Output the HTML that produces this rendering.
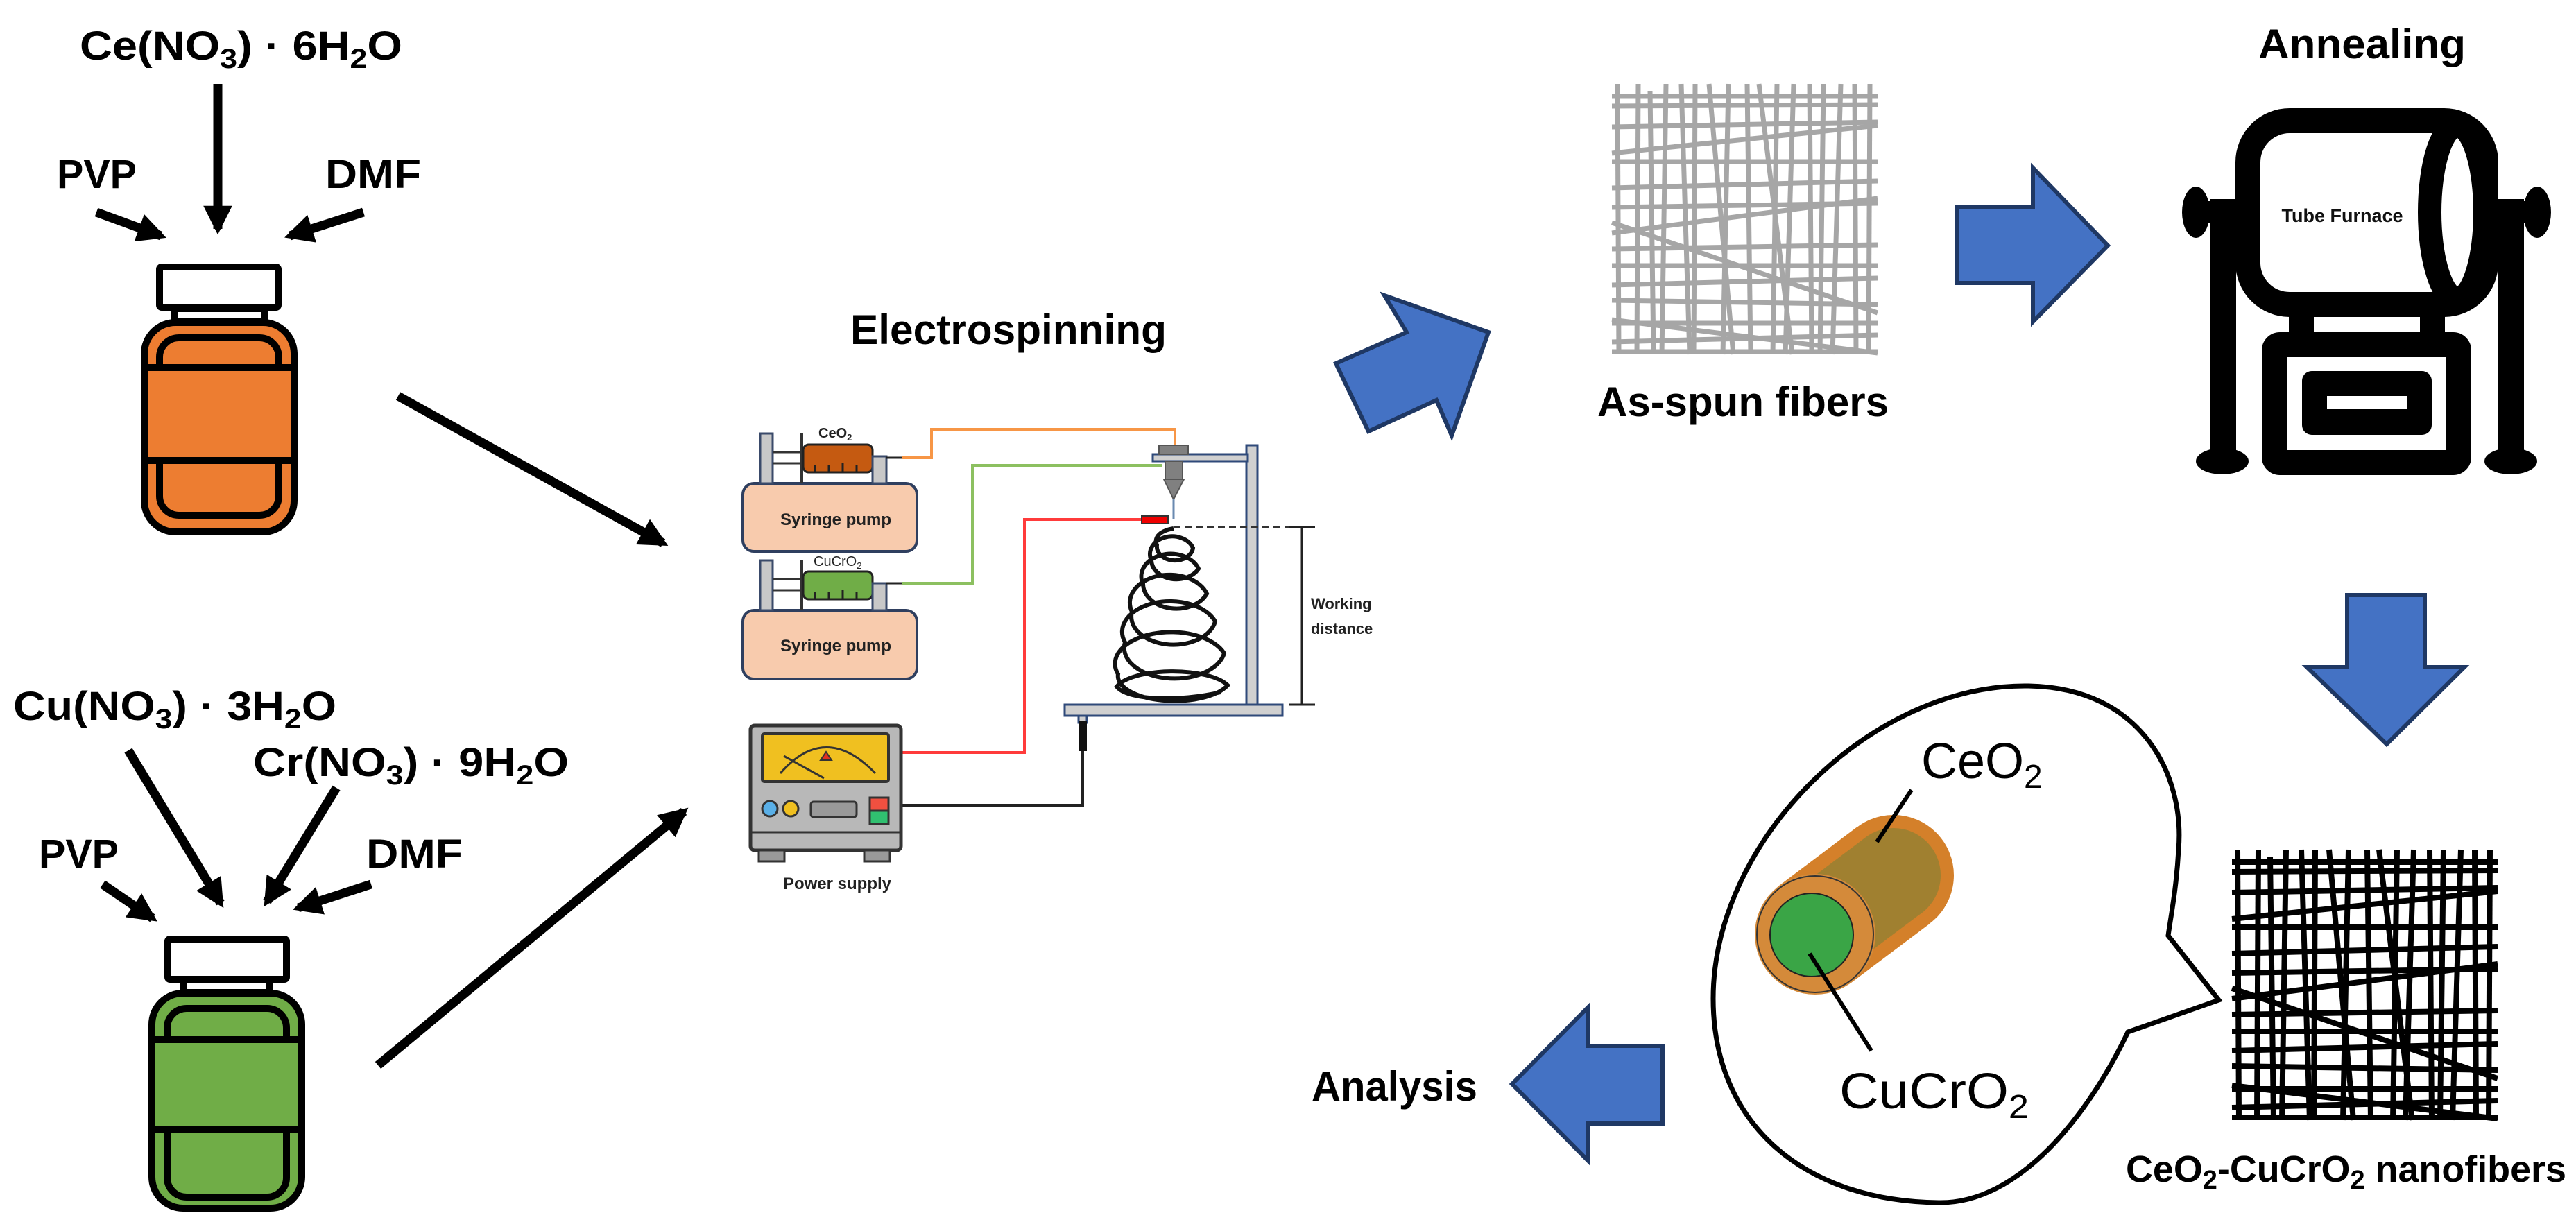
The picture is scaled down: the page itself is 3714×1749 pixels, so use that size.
<!DOCTYPE html>
<html><head><meta charset="utf-8"><style>
html,body{margin:0;padding:0;background:#fff;}
svg{display:block;}
text{font-family:"Liberation Sans",sans-serif;}
</style></head><body>
<svg width="3714" height="1749" viewBox="0 0 3714 1749" xmlns="http://www.w3.org/2000/svg">
<defs>
<marker id="ah" viewBox="0 0 10 10" refX="8" refY="5" markerWidth="3.2" markerHeight="3.2" orient="auto"><path d="M0,0 L10,5 L0,10 Z" fill="#000"/></marker>
<g id="fib">
<line x1="8" y1="0" x2="10" y2="390"/><line x1="38" y1="0" x2="36" y2="390"/><line x1="55" y1="10" x2="60" y2="390"/>
<line x1="78" y1="0" x2="72" y2="390"/><line x1="100" y1="0" x2="112" y2="390"/><line x1="120" y1="0" x2="118" y2="390"/>
<line x1="140" y1="0" x2="175" y2="390"/><line x1="168" y1="0" x2="160" y2="390"/><line x1="195" y1="0" x2="200" y2="390"/>
<line x1="212" y1="0" x2="260" y2="390"/><line x1="238" y1="0" x2="232" y2="390"/><line x1="262" y1="0" x2="250" y2="390"/>
<line x1="285" y1="0" x2="288" y2="390"/><line x1="305" y1="0" x2="300" y2="390"/><line x1="330" y1="0" x2="318" y2="390"/>
<line x1="350" y1="0" x2="352" y2="390"/><line x1="372" y1="0" x2="370" y2="390"/>
<line x1="0" y1="18" x2="383" y2="18"/><line x1="0" y1="32" x2="383" y2="30"/><line x1="0" y1="62" x2="383" y2="55"/>
<line x1="0" y1="100" x2="383" y2="60"/><line x1="0" y1="112" x2="383" y2="112"/><line x1="0" y1="150" x2="383" y2="140"/>
<line x1="0" y1="178" x2="383" y2="172"/><line x1="0" y1="215" x2="383" y2="165"/><line x1="0" y1="238" x2="383" y2="232"/>
<line x1="0" y1="262" x2="383" y2="262"/><line x1="0" y1="290" x2="383" y2="280"/><line x1="0" y1="200" x2="383" y2="330"/>
<line x1="0" y1="312" x2="383" y2="318"/><line x1="0" y1="345" x2="383" y2="345"/><line x1="0" y1="372" x2="383" y2="362"/>
<line x1="0" y1="340" x2="383" y2="388"/><line x1="0" y1="386" x2="383" y2="386"/>
</g>
</defs>

<text x="115" y="86" font-size="58" font-weight="bold" textLength="465" lengthAdjust="spacingAndGlyphs">Ce(NO<tspan font-size="40" dy="12">3</tspan><tspan dy="-12">) · 6H</tspan><tspan font-size="40" dy="12">2</tspan><tspan dy="-12">O</tspan></text>
<text x="82" y="271" font-size="58" font-weight="bold" textLength="115" lengthAdjust="spacingAndGlyphs">PVP</text>
<text x="469" y="271" font-size="58" font-weight="bold" textLength="138" lengthAdjust="spacingAndGlyphs">DMF</text>
<g stroke="#000" stroke-width="13" marker-end="url(#ah)">
<line x1="314" y1="121" x2="314" y2="330"/>
<line x1="139" y1="306" x2="232" y2="340"/>
<line x1="524" y1="306" x2="418" y2="340"/>
<line x1="574" y1="571" x2="956" y2="783"/>
</g>
<g stroke="#000" stroke-width="10">
<rect x="230" y="385" width="171" height="58" fill="#fff" rx="3"/>
<rect x="251" y="445" width="130" height="18" fill="#fff"/>
<rect x="208" y="465" width="216" height="302" rx="45" fill="#ed7d31"/>
<rect x="230" y="487" width="172" height="256" rx="28" fill="#ed7d31"/>
<rect x="208" y="530" width="216" height="134" fill="#ed7d31"/>
</g>

<text x="19" y="1038" font-size="58" font-weight="bold" textLength="466" lengthAdjust="spacingAndGlyphs">Cu(NO<tspan font-size="40" dy="12">3</tspan><tspan dy="-12">) · 3H</tspan><tspan font-size="40" dy="12">2</tspan><tspan dy="-12">O</tspan></text>
<text x="365" y="1119" font-size="58" font-weight="bold" textLength="455" lengthAdjust="spacingAndGlyphs">Cr(NO<tspan font-size="40" dy="12">3</tspan><tspan dy="-12">) · 9H</tspan><tspan font-size="40" dy="12">2</tspan><tspan dy="-12">O</tspan></text>
<text x="56" y="1251" font-size="58" font-weight="bold" textLength="115" lengthAdjust="spacingAndGlyphs">PVP</text>
<text x="528" y="1251" font-size="58" font-weight="bold" textLength="139" lengthAdjust="spacingAndGlyphs">DMF</text>
<g stroke="#000" stroke-width="13" marker-end="url(#ah)">
<line x1="185" y1="1082" x2="318" y2="1302"/>
<line x1="485" y1="1136" x2="385" y2="1300"/>
<line x1="148" y1="1275" x2="220" y2="1324"/>
<line x1="535" y1="1275" x2="430" y2="1309"/>
<line x1="545" y1="1536" x2="986" y2="1170"/>
</g>
<g stroke="#000" stroke-width="10">
<rect x="242" y="1354" width="171" height="58" fill="#fff" rx="3"/>
<rect x="264" y="1413" width="124" height="18" fill="#fff"/>
<rect x="219" y="1432" width="216" height="310" rx="45" fill="#70ad47"/>
<rect x="241" y="1454" width="172" height="272" rx="28" fill="#70ad47"/>
<rect x="219" y="1499" width="216" height="129" fill="#70ad47"/>
</g>

<text x="1226" y="496" font-size="60" font-weight="bold" textLength="456" lengthAdjust="spacingAndGlyphs">Electrospinning</text>
<polyline points="1300,660 1343,660 1343,619 1694,619 1694,646" fill="none" stroke="#f79646" stroke-width="4"/>
<polyline points="1300,841 1402,841 1402,671 1676,671" fill="none" stroke="#8cc060" stroke-width="4"/>
<polyline points="1299,1085 1477,1085 1477,749 1650,749" fill="none" stroke="#ff3b3b" stroke-width="4"/>
<polyline points="1299,1161 1561,1161 1561,1083" fill="none" stroke="#222" stroke-width="4"/>
<g stroke="#2f3f5f" stroke-width="4">
<rect x="1071" y="697" width="251" height="98" rx="16" fill="#f8cbad"/>
<rect x="1071" y="880" width="251" height="99" rx="16" fill="#f8cbad"/>
</g>
<text x="1205" y="757" font-size="24" font-weight="bold" text-anchor="middle" fill="#222">Syringe pump</text>
<text x="1205" y="939" font-size="24" font-weight="bold" text-anchor="middle" fill="#222">Syringe pump</text>
<g stroke="#333" stroke-width="3">
<rect x="1096" y="625" width="18" height="72" fill="#c8c8c8" stroke="#3a4a6a"/>
<line x1="1114" y1="652" x2="1158" y2="652"/><line x1="1114" y1="668" x2="1158" y2="668"/>
<line x1="1156" y1="624" x2="1156" y2="696" stroke-width="4"/>
<rect x="1158" y="641" width="100" height="40" rx="8" fill="#c55a11" stroke="#222"/>
<path d="M1175,681 v-10 M1195,681 v-10 M1215,681 v-14 M1235,681 v-10" stroke="#222"/>
<rect x="1258" y="658" width="20" height="39" fill="#c8c8c8" stroke="#3a4a6a"/>
<line x1="1278" y1="660" x2="1300" y2="660" stroke="#222"/>
</g>
<g stroke="#333" stroke-width="3">
<rect x="1096" y="808" width="18" height="72" fill="#c8c8c8" stroke="#3a4a6a"/>
<line x1="1114" y1="835" x2="1158" y2="835"/><line x1="1114" y1="851" x2="1158" y2="851"/>
<line x1="1156" y1="807" x2="1156" y2="879" stroke-width="4"/>
<rect x="1158" y="824" width="100" height="40" rx="8" fill="#70ad47" stroke="#222"/>
<path d="M1175,864 v-10 M1195,864 v-10 M1215,864 v-14 M1235,864 v-10" stroke="#222"/>
<rect x="1258" y="841" width="20" height="39" fill="#c8c8c8" stroke="#3a4a6a"/>
<line x1="1278" y1="841" x2="1300" y2="841" stroke="#222"/>
</g>
<text x="1180" y="631" font-size="20" font-weight="bold" fill="#222">CeO<tspan font-size="13" dy="4">2</tspan></text>
<text x="1173" y="816" font-size="20" fill="#222">CuCrO<tspan font-size="13" dy="4">2</tspan></text>
<g fill="#d0d0d0" stroke="#2f4a7a" stroke-width="3">
<rect x="1797" y="642" width="16" height="376"/>
<rect x="1535" y="1016" width="314" height="16"/>
<rect x="1662" y="655" width="137" height="10"/>
<rect x="1555" y="1032" width="12" height="10"/>
</g>
<rect x="1555" y="1040" width="12" height="43" fill="#111"/>
<rect x="1671" y="642" width="42" height="13" fill="#808080" stroke="#555" stroke-width="2"/>
<rect x="1680" y="665" width="25" height="26" fill="#808080" stroke="#555" stroke-width="2"/>
<path d="M1678,691 L1707,691 L1692,720 Z" fill="#808080" stroke="#555" stroke-width="2"/>
<line x1="1692" y1="720" x2="1692" y2="748" stroke="#6a8ab0" stroke-width="3"/>
<rect x="1646" y="744" width="38" height="11" fill="#e00" stroke="#333" stroke-width="2"/>
<line x1="1692" y1="760" x2="1880" y2="760" stroke="#333" stroke-width="3" stroke-dasharray="10,6"/>
<g stroke="#222" stroke-width="3"><line x1="1877" y1="760" x2="1877" y2="1016"/><line x1="1858" y1="760" x2="1896" y2="760"/><line x1="1858" y1="1016" x2="1896" y2="1016"/></g>
<text x="1890" y="878" font-size="22" font-weight="bold" fill="#222">Working</text>
<text x="1890" y="914" font-size="22" font-weight="bold" fill="#222">distance</text>
<path d="M1692,762 C1668,766 1664,778 1668,786 A26,20 0 0 0 1720,790 A30,24 0 0 0 1660,808 A36,28 0 0 0 1728,820 A42,32 0 0 0 1648,842 A48,36 0 0 0 1740,856 A54,38 0 0 0 1632,882 A60,40 0 0 0 1752,896 A66,42 0 0 0 1622,926 A72,44 0 0 0 1765,942 A78,44 0 0 0 1612,972 A82,36 0 0 0 1770,988 A84,30 0 0 0 1610,990 C1625,1010 1700,1012 1760,998" fill="none" stroke="#111" stroke-width="6"/>
<rect x="1082" y="1046" width="217" height="180" rx="6" fill="#b8b8b8" stroke="#333" stroke-width="5"/>
<rect x="1099" y="1058" width="182" height="69" rx="3" fill="#f0c020" stroke="#333" stroke-width="4"/>
<path d="M1125,1115 Q1190,1040 1262,1115" fill="none" stroke="#333" stroke-width="3"/>
<line x1="1130" y1="1090" x2="1188" y2="1122" stroke="#333" stroke-width="3"/>
<path d="M1183,1096 L1191,1084 L1199,1096 Z" fill="#e03020" stroke="#333" stroke-width="2"/>
<circle cx="1110" cy="1166" r="11" fill="#5ab0e8" stroke="#333" stroke-width="3"/>
<circle cx="1140" cy="1166" r="11" fill="#f0c020" stroke="#333" stroke-width="3"/>
<rect x="1169" y="1156" width="66" height="22" rx="4" fill="#999" stroke="#333" stroke-width="3"/>
<rect x="1254" y="1150" width="27" height="19" fill="#f05040" stroke="#333" stroke-width="3"/>
<rect x="1254" y="1169" width="27" height="19" fill="#30c070" stroke="#333" stroke-width="3"/>
<line x1="1084" y1="1200" x2="1297" y2="1200" stroke="#333" stroke-width="3"/>
<rect x="1094" y="1226" width="37" height="16" fill="#999" stroke="#333" stroke-width="3"/>
<rect x="1246" y="1226" width="37" height="16" fill="#999" stroke="#333" stroke-width="3"/>
<text x="1207" y="1282" font-size="24" font-weight="bold" text-anchor="middle" fill="#222">Power supply</text>

<g fill="#4472c4" stroke="#1f3864" stroke-width="6" stroke-linejoin="miter">
<polygon points="1926,524 1973,622 2071,577 2093,628 2146,479 1996,426 2028,479"/>
<polygon points="2821,299 2931,299 2931,242 3039,354 2931,464 2931,408 2821,408"/>
<polygon points="3384,858 3496,858 3496,962 3553,962 3441,1073 3326,962 3384,962"/>
<polygon points="2397,1508 2290,1508 2290,1452 2180,1563 2290,1674 2290,1620 2397,1620"/>
</g>

<g transform="translate(2324,121)" stroke="#a6a6a6" stroke-width="7"><use href="#fib"/></g>
<text x="2303" y="600" font-size="60" font-weight="bold" textLength="420" lengthAdjust="spacingAndGlyphs">As-spun fibers</text>

<text x="3256" y="84" font-size="60" font-weight="bold" textLength="299" lengthAdjust="spacingAndGlyphs">Annealing</text>
<g fill="#000">
<rect x="3186" y="287" width="38" height="380"/>
<rect x="3601" y="287" width="38" height="380"/>
<ellipse cx="3166" cy="306" rx="20" ry="37"/>
<ellipse cx="3658" cy="306" rx="20" ry="37"/>
<rect x="3166" y="290" width="60" height="32"/>
<rect x="3600" y="290" width="60" height="32"/>
<ellipse cx="3204" cy="665" rx="38" ry="19"/>
<ellipse cx="3620" cy="665" rx="38" ry="19"/>
<rect x="3300" y="450" width="36" height="32"/>
<rect x="3489" y="450" width="36" height="32"/>
</g>
<rect x="3241" y="174" width="343" height="265" rx="60" fill="#fff" stroke="#000" stroke-width="36"/>
<ellipse cx="3543" cy="306" rx="40" ry="125" fill="#fff" stroke="#000" stroke-width="34"/>
<rect x="3279" y="497" width="266" height="170" rx="8" fill="#fff" stroke="#000" stroke-width="36"/>
<rect x="3319" y="535" width="187" height="92" rx="14" fill="#000"/>
<rect x="3355" y="571" width="115" height="19" fill="#fff"/>
<text x="3377" y="320" font-size="27" font-weight="bold" text-anchor="middle" fill="#111">Tube Furnace</text>

<g transform="translate(3218,1225)" stroke="#000" stroke-width="8"><use href="#fib"/></g>
<text x="3065" y="1704" font-size="54" font-weight="bold" textLength="635" lengthAdjust="spacingAndGlyphs">CeO<tspan font-size="38" dy="10">2</tspan><tspan dy="-10">-CuCrO</tspan><tspan font-size="38" dy="10">2</tspan><tspan dy="-10"> nanofibers</tspan></text>

<path d="M3199,1442 L3068,1488 C3010,1610 2910,1736 2795,1734 C2600,1732 2470,1620 2470,1440 C2470,1210 2700,985 2925,989 C3090,992 3150,1120 3141,1225 C3138,1280 3130,1320 3126,1349 Z" fill="#fff" stroke="#000" stroke-width="7" stroke-linejoin="miter"/>
<circle cx="2730" cy="1262" r="87" fill="#d4802a"/>
<polygon points="2669,1417 2565,1277 2678,1192 2782,1332" fill="#d4802a"/>
<circle cx="2730" cy="1262" r="68" fill="#a08030"/>
<polygon points="2658,1401 2576,1293 2689,1208 2771,1316" fill="#a08030"/>
<circle cx="2617" cy="1347" r="87" fill="#d48a3a"/>
<circle cx="2617" cy="1347" r="84" fill="none" stroke="#333" stroke-width="2"/>
<circle cx="2612" cy="1348" r="60" fill="#3aa546" stroke="#222" stroke-width="2"/>
<line x1="2756" y1="1139" x2="2706" y2="1214" stroke="#000" stroke-width="6"/>
<line x1="2609" y1="1375" x2="2698" y2="1515" stroke="#000" stroke-width="6"/>
<text x="2770" y="1122" font-size="72">CeO<tspan font-size="48" dy="14">2</tspan></text>
<text x="2652" y="1598" font-size="72" textLength="273" lengthAdjust="spacingAndGlyphs">CuCrO<tspan font-size="48" dy="14">2</tspan></text>

<text x="1891" y="1587" font-size="60" font-weight="bold" textLength="239" lengthAdjust="spacingAndGlyphs">Analysis</text>
</svg>
</body></html>
